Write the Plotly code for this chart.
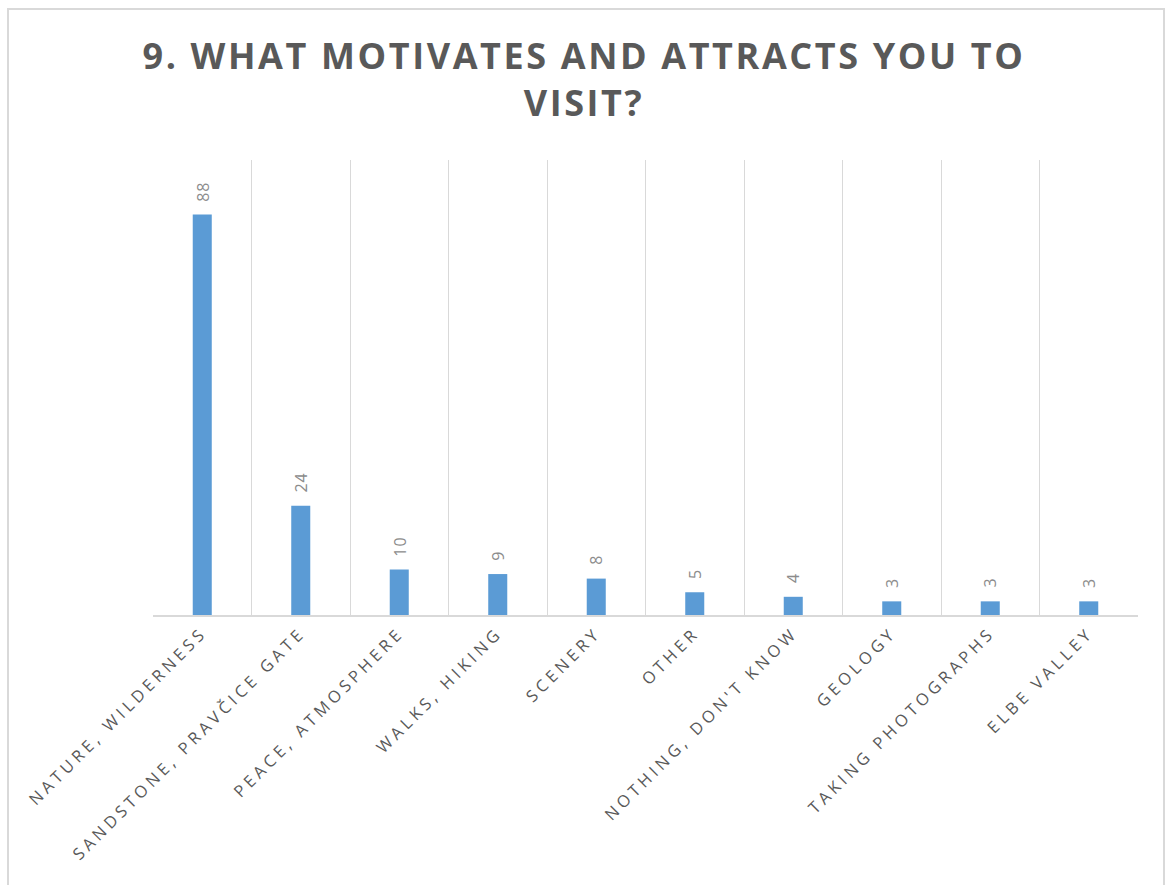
import plotly.graph_objects as go

# Survey answers: motivations for visiting
categories = [
    "NATURE, WILDERNESS",
    "SANDSTONE, PRAVČICE GATE",
    "PEACE, ATMOSPHERE",
    "WALKS, HIKING",
    "SCENERY",
    "OTHER",
    "NOTHING, DON'T KNOW",
    "GEOLOGY",
    "TAKING PHOTOGRAPHS",
    "ELBE VALLEY",
]
counts = [88, 24, 10, 9, 8, 5, 4, 3, 3, 3]

title_text = "9. WHAT MOTIVATES AND ATTRACTS YOU TO<br>VISIT?"

W, H = 1168, 885
M_L, M_R, M_T, M_B = 153, 30, 160, 270
plot_w = W - M_L - M_R
plot_h = H - M_T - M_B

GRID = "#d9d9d9"
TEXT = "#595959"
LABEL = "#8c8c8c"

fig = go.Figure(
    go.Bar(
        x=categories,
        y=counts,
        marker=dict(color="#5b9bd5", line=dict(width=0)),
        hoverinfo="x+y",
    )
)

# Value labels above each bar, rotated to read bottom-to-top
for cat, val in zip(categories, counts):
    fig.add_annotation(
        x=cat, y=val, text=str(val),
        showarrow=False, textangle=-90,
        xanchor="center", yanchor="bottom", yshift=12,
        font=dict(family="Open Sans", size=16, color=LABEL),
    )

# Light outer frame around the whole chart
def px_to_paper_x(px):
    return (px - M_L) / plot_w

def px_to_paper_y(py):
    return (H - M_B - py) / plot_h

fig.add_shape(
    type="rect", xref="paper", yref="paper",
    x0=px_to_paper_x(8), x1=px_to_paper_x(1164),
    y0=px_to_paper_y(900), y1=px_to_paper_y(9),
    line=dict(color=GRID, width=2), fillcolor="rgba(0,0,0,0)",
    layer="below",
)

fig.update_layout(
    width=W, height=H,
    margin=dict(l=M_L, r=M_R, t=M_T, b=M_B, autoexpand=False),
    paper_bgcolor="white", plot_bgcolor="white",
    showlegend=False,
    bargap=0.807,
    title=dict(
        text=title_text,
        x=0.5, xref="container", xanchor="center",
        y=1 - 69 / H, yref="container", yanchor="top",
        font=dict(family="Open Sans", size=36, color=TEXT, weight="bold"),
    ),
    xaxis=dict(
        type="category",
        tickson="boundaries",
        showgrid=True, gridcolor=GRID, gridwidth=1,
        showline=True, linecolor=GRID, linewidth=1.5,
        ticks="", tickangle=-45,
        tickfont=dict(family="Open Sans", size=16.5, color=TEXT),
        automargin=False,
        fixedrange=True,
    ),
    yaxis=dict(
        range=[0, 100],
        showgrid=False, zeroline=False, showline=False,
        showticklabels=False, ticks="",
        automargin=False,
        fixedrange=True,
    ),
)

# Spaced-out lettering for the title and category labels
post = (
    "var s=document.createElement('style');"
    "s.textContent='.gtitle{letter-spacing:2.6px}"
    " .xtick text, text.xtick{letter-spacing:4px}"
    " .annotation-text{letter-spacing:1px}';"
    "document.head.appendChild(s);"
)

fig.write_html("out.html", post_script=post, config={"displayModeBar": False})
